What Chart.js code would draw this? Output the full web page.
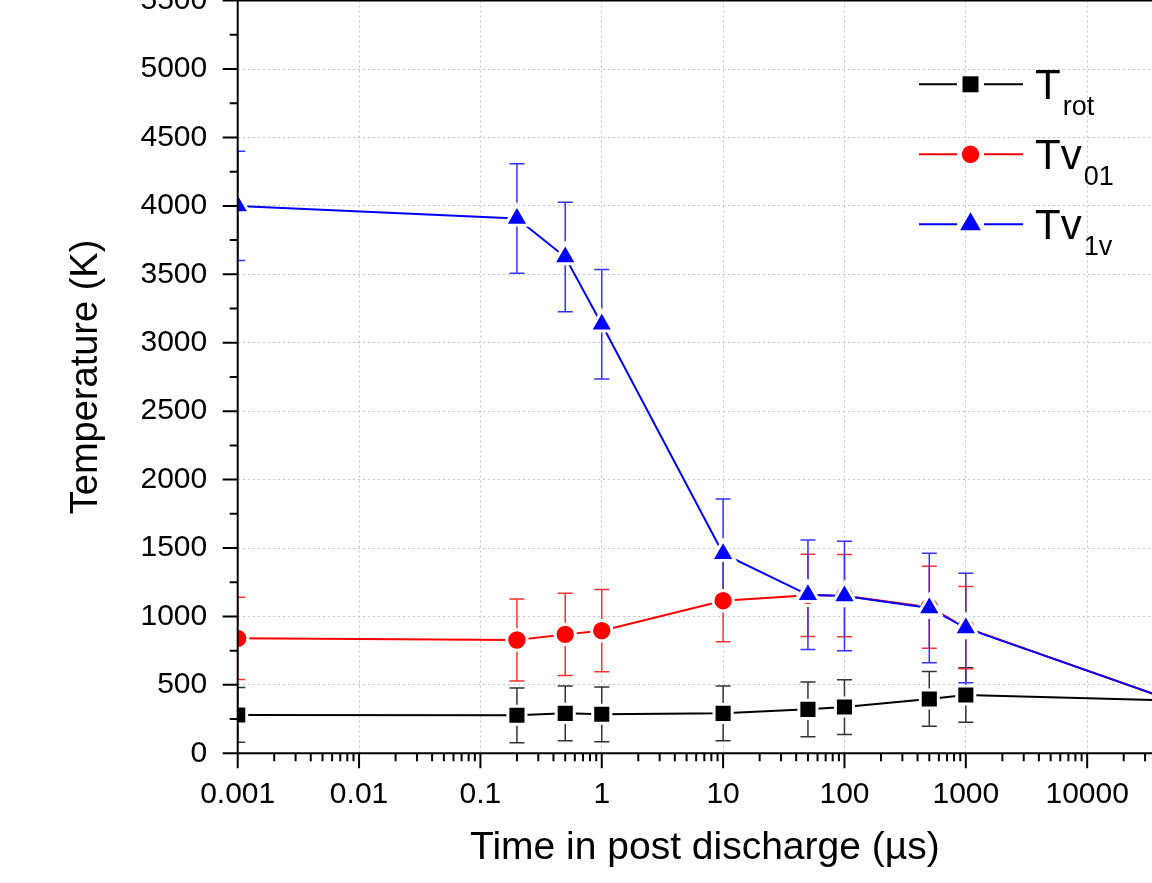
<!DOCTYPE html>
<html>
<head>
<meta charset="utf-8">
<script src="https://cdn.jsdelivr.net/npm/chart.js@4.4.1/dist/chart.umd.min.js"></script>
<style>
html, body { margin: 0; padding: 0; background: #fff; overflow: hidden; width: 1152px; height: 883px; }
#wrap { position: absolute; left: 0; top: -40px; width: 1230px; height: 923px; }
</style>
</head>
<body>
<div id="wrap"><canvas id="chart" width="1230" height="923"></canvas></div>
<script>
// time in post discharge (µs)
var times = [0.001, 0.2, 0.5, 1, 10, 50, 100, 500, 1000, 50000];
var tRot  = [280, 278, 292, 285, 292, 321, 338, 397, 426, 386];
var tv01  = [840, 828, 869, 896, 1115, 1154, 1152, 1067, 918, 386];
var tv1v  = [4000, 3908, 3626, 3135, 1458, 1158, 1150, 1062, 915, 387];
var errRot  = [200, 200, 200, 200, 200, 200, 200, 200, 200, 200];
var errV01  = [300, 300, 300, 300, 300, 300, 300, 300, 300, 300];
var errV1v  = [400, 400, 400, 400, 400, 400, 400, 400, 400, 400];

var xTickLabels = ['0.001', '0.01', '0.1', '1', '10', '100', '1000', '10000'];
var yTicks = [0, 500, 1000, 1500, 2000, 2500, 3000, 3500, 4000, 4500, 5000, 5500];
var legendMain = ['T', 'Tv', 'Tv'];
var legendSub = ['rot', '01', '1v'];

var FONT = "'Liberation Sans', Arial, sans-serif";
// wanted plot area inside the canvas (canvas is shifted 40px up)
var AREA = {left: 237.7, right: 1172, top: 40.6, bottom: 793.3};
var yAxisWidth = AREA.left;
var xAxisHeight = 923 - AREA.bottom;
var padTop = AREA.top, padRight = 1230 - AREA.right;

function pts(ys) {
	var out = [];
	for (var i = 0; i < times.length; i++) out.push({x: times[i], y: ys[i]});
	return out;
}
function isPow10(v) {
	var l = Math.log10(v);
	return Math.abs(l - Math.round(l)) < 1e-9;
}

var series = [
	{label: 'Trot', data: tRot, err: errRot, color: '#000000', errColor: '#333333', style: 'rect', r: 11.3},
	{label: 'Tv01', data: tv01, err: errV01, color: '#ff0000', errColor: '#ff3333', style: 'circle', r: 8.7},
	{label: 'Tv1v', data: tv1v, err: errV1v, color: '#0000ff', errColor: '#3333ff', style: 'triangle', r: 12}
];
var HALO = 3;

var extras = {
	id: 'extras',
	beforeDatasetsDraw: function(chart) {
		var ctx = chart.ctx, xs = chart.scales.x, ys = chart.scales.y, a = chart.chartArea;
		ctx.save();
		ctx.beginPath();
		ctx.rect(a.left, a.top - 1, a.right - a.left, a.bottom - a.top + 2);
		ctx.clip();
		series.forEach(function(s) {
			ctx.strokeStyle = s.errColor;
			ctx.lineWidth = 1.5;
			for (var i = 0; i < times.length; i++) {
				var px = xs.getPixelForValue(times[i]);
				var t = ys.getPixelForValue(s.data[i] + s.err[i]);
				var b = ys.getPixelForValue(s.data[i] - s.err[i]);
				ctx.beginPath();
				ctx.moveTo(px, t); ctx.lineTo(px, b);
				ctx.moveTo(px - 7.5, t); ctx.lineTo(px + 7.5, t);
				ctx.moveTo(px - 7.5, b); ctx.lineTo(px + 7.5, b);
				ctx.stroke();
			}
		});
		ctx.restore();
	},
	afterDraw: function(chart) {
		var ctx = chart.ctx, xs = chart.scales.x, ys = chart.scales.y, a = chart.chartArea;
		ctx.save();
		ctx.strokeStyle = '#000';
		ctx.lineWidth = 2;
		// frame
		ctx.beginPath();
		ctx.moveTo(a.left, a.bottom); ctx.lineTo(a.left, a.top); ctx.lineTo(a.right, a.top);
		ctx.lineTo(a.right, a.bottom); ctx.lineTo(a.left, a.bottom);
		ctx.stroke();
		// y ticks
		ctx.beginPath();
		yTicks.forEach(function(v) {
			var py = ys.getPixelForValue(v);
			ctx.moveTo(a.left - 15, py); ctx.lineTo(a.left, py);
			var pm = ys.getPixelForValue(v + 250);
			if (v + 250 < ys.max) { ctx.moveTo(a.left - 8, pm); ctx.lineTo(a.left, pm); }
		});
		// x ticks
		for (var e = -3; e <= 4; e++) {
			var p = Math.pow(10, e);
			var px = xs.getPixelForValue(p);
			ctx.moveTo(px, a.bottom); ctx.lineTo(px, a.bottom + 15);
			for (var k = 2; k <= 9; k++) {
				if (k * p > xs.max) break;
				var pk = xs.getPixelForValue(k * p);
				ctx.moveTo(pk, a.bottom); ctx.lineTo(pk, a.bottom + 8);
			}
		}
		ctx.stroke();

		// legend
		var h = Chart.helpers;
		for (var i = 0; i < series.length; i++) {
			var s = series[i];
			var cy = 124.3 + i * 70;
			ctx.strokeStyle = s.color;
			ctx.fillStyle = s.color;
			ctx.lineWidth = 2;
			ctx.beginPath();
			ctx.moveTo(919, cy); ctx.lineTo(957, cy);
			ctx.moveTo(984, cy); ctx.lineTo(1023, cy);
			ctx.stroke();
			h.drawPoint(ctx, {pointStyle: s.style, radius: s.r, rotation: 0, borderWidth: 0}, 970.5, cy);
			ctx.fillStyle = '#000';
			ctx.textAlign = 'left';
			ctx.textBaseline = 'alphabetic';
			ctx.font = '42px ' + FONT;
			ctx.fillText(legendMain[i], 1035, cy + 15);
			var w = ctx.measureText(legendMain[i]).width;
			ctx.font = '27px ' + FONT;
			ctx.fillText(legendSub[i], 1035 + w + 2, cy + 31);
		}
		ctx.restore();
	}
};

var datasets = series.map(function(s, i) {
	return {
		label: s.label,
		data: pts(s.data),
		borderColor: s.color,
		backgroundColor: s.color,
		borderWidth: 2,
		pointStyle: s.style,
		pointRadius: s.r + HALO / 2,
		pointBorderWidth: HALO,
		pointBorderColor: '#ffffff',
		pointBackgroundColor: s.color,
		tension: 0,
		order: 2 - i
	};
});

var config = {
	type: 'line',
	data: {datasets: datasets},
	options: {
		responsive: false,
		animation: false,
		devicePixelRatio: 1,
		layout: {padding: {top: padTop, right: padRight, left: 0, bottom: 0}},
		plugins: {legend: {display: false}, tooltip: {enabled: false}},
		scales: {
			x: {
				type: 'logarithmic',
				min: 0.001,
				max: 50000,
				afterFit: function(scale) { scale.height = xAxisHeight; scale.paddingRight = 0; },
				border: {display: false, dash: [2, 3]},
				grid: {
					drawTicks: false,
					lineWidth: 1,
					color: function(c) { return c.tick && isPow10(c.tick.value) ? '#c4c4c4' : 'rgba(0,0,0,0)'; }
				},
				ticks: {
					autoSkip: false,
					maxRotation: 0,
					padding: 23,
					color: '#000',
					font: {family: FONT, size: 30},
					callback: function(v) {
						if (!isPow10(v)) return '';
						var idx = Math.round(Math.log10(v)) + 3;
						return xTickLabels[idx] || '';
					}
				},
				title: {
					display: true,
					text: 'Time in post discharge (µs)',
					color: '#000',
					font: {family: FONT, size: 39},
					padding: {top: 0, bottom: 11.6}
				}
			},
			y: {
				type: 'linear',
				min: 0,
				max: 5500,
				afterFit: function(scale) {
					scale.width = yAxisWidth;
					scale.paddingTop = 0;
					scale.paddingBottom = 0;
				},
				border: {display: false, dash: [2, 3]},
				grid: {drawTicks: false, lineWidth: 1, color: '#c4c4c4'},
				ticks: {
					stepSize: 500,
					padding: 30.5,
					color: '#000',
					font: {family: FONT, size: 30},
					callback: function(v) { return yTicks.indexOf(v) >= 0 ? String(v) : ''; }
				},
				title: {
					display: true,
					text: 'Temperature (K)',
					color: '#000',
					font: {family: FONT, size: 38},
					padding: {top: 64, bottom: 0}
				}
			}
		}
	},
	plugins: [extras]
};

var chart = new Chart(document.getElementById('chart').getContext('2d'), config);

// nudge the layout so the plot area lands where the picture has it
for (var n = 0; n < 4; n++) {
	var ca = chart.chartArea;
	padTop += AREA.top - ca.top;
	padRight += ca.right - AREA.right;
	xAxisHeight += ca.bottom - AREA.bottom;
	yAxisWidth += AREA.left - ca.left;
	chart.config.options.layout.padding = {top: padTop, right: padRight, left: 0, bottom: 0};
	chart.update();
}
</script>
</body>
</html>
